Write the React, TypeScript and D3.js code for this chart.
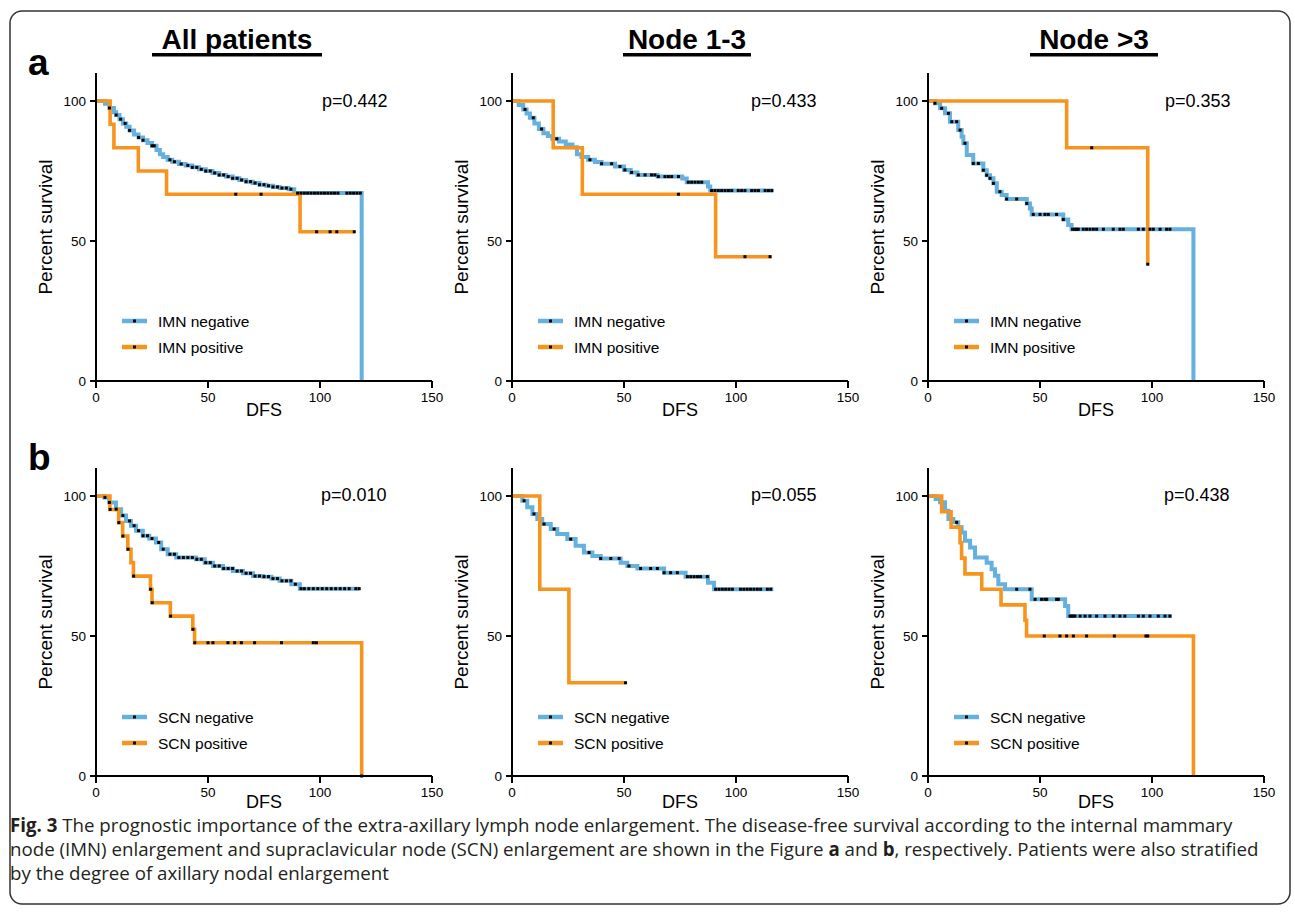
import React from 'react';
import * as d3 from 'd3';

// ---------- DATA ----------
const xTicks = [0, 50, 100, 150];
const yTicks = [0, 50, 100];
const columnTitles = ['All patients', 'Node 1-3', 'Node >3'];
const rowLetters = ['a', 'b'];
const pValues = ['p=0.442', 'p=0.433', 'p=0.353', 'p=0.010', 'p=0.055', 'p=0.438'];
const negLabels = ['IMN negative', 'SCN negative'];
const posLabels = ['IMN positive', 'SCN positive'];

// steps: [time, survival after the step]
const p1NegSteps = [[4,99],[6,97.5],[8,96],[9,95],[10.5,93.5],[12,92],[13.5,90.8],[15,89.5],[17,88],[19,87],[21,86],[23,85],[25,84],[27,82.5],[28.5,81],[30,80],[32,79],[34,78.3],[37,77.5],[40,77],[43,76.3],[46,75.6],[49,75],[52,74.3],[55,73.6],[58,73],[61,72.4],[64,71.8],[67,71.2],[70,70.7],[73,70.1],[76,69.7],[79,69.3],[82,68.9],[86,68.5],[88.5,67.1],[118.6,0]];
const p1NegEnd = 118.6;
const p1NegCens = [6,9,11,13,15,19,21,25,26,33,35,38,41,43,45,47,49,51,53,55,57,59,61,63,65,67,69,71,73,75,77,79,81,83,85,87,90,91.5,93,94.5,96,97.5,99,100.5,102,103.5,105,106.5,108,112,113.5,115,116.5,118];
const p1PosSteps = [[6.3,91.7],[8,83.3],[18.9,75],[31.5,66.7],[91.1,53.3]];
const p1PosEnd = 115.6;
const p1PosCens = [62.4,73.7,98.5,104.5,107.5,115.3];

const p2NegSteps = [[3,98.6],[5,97],[6.5,95.5],[8,94],[10,92],[12,90],[14,88.5],[16,87.5],[18,86.5],[21,85.5],[24,84.5],[27,83.5],[29,81],[31,80],[34,79],[37,78.2],[40,77.6],[46,76.6],[50,75.4],[53,74.5],[56,73.6],[65,73],[76,72.3],[78,71],[87.5,69.5],[88.5,68]];
const p2NegEnd = 116.7;
const p2NegCens = [5.8,9.5,13.2,20,34.8,40,44.5,48.2,50.4,53.4,56.4,59.4,62.3,63.8,65.3,68.3,69.8,71.3,74.3,78.7,80.2,81.7,83.2,84.7,89.1,90.6,92.1,93.6,95.1,96.6,98.1,101,102.5,104,107,108.5,110,113,114.5,116];
const p2PosSteps = [[18.4,83.3],[31.4,66.7],[90.9,44.4]];
const p2PosEnd = 115.9;
const p2PosCens = [74.3,104,115.2];

const p3NegSteps = [[3.1,99.2],[5.4,97.4],[7.6,95.6],[9.8,92.6],[13.5,89.6],[15,87.2],[15.8,84.9],[17.3,80.7],[20.2,77.7],[24.7,75.3],[26.2,73.5],[27.7,72.4],[29.2,70.6],[30.7,67.6],[32.9,66.4],[35.1,65],[44.1,63.4],[45.5,61.6],[46.3,59.5],[60.4,57.7],[62.6,55.7],[64.1,54.2],[118.5,0]];
const p3NegEnd = 118.5;
const p3NegCens = [3.1,6.1,9.1,10.6,12.8,14.3,16.5,20.2,22.5,24.7,26.2,27.7,29.2,32.1,35.1,39.6,44.1,47,50,52.2,53.7,57.4,60.4,64.5,65.6,66.4,67.1,69.3,70.8,72.3,73.8,75.3,78.3,82.7,85.7,87.2,93.9,96.1,99.1,100.6,103.6,106.5,108];
const p3PosSteps = [[61.9,83.3],[98.1,41.7]];
const p3PosEnd = 98.1;
const p3PosCens = [73.1,98.1];

const p4NegSteps = [[3.7,99.5],[5.9,97.7],[8.9,95.3],[11.2,93],[13.4,91.1],[15.6,89.4],[17.9,87.6],[20.9,85.8],[23.8,84.8],[26.8,83.4],[29.1,81],[32,79.2],[35.8,78],[44.7,77.4],[48.5,76.2],[52.2,75],[56.7,74.1],[61.1,73.2],[65.6,72.4],[70.1,71.4],[74.6,71.2],[78.3,70.5],[82,69.7],[87.2,68.5],[91,66.9]];
const p4NegEnd = 117.5;
const p4NegCens = [4,6,9,12,15,17,19,21,23,25,28,30,33,35,37,39,41,43,45,47,49,51,53,55,57,59,61,63,65,67,69,71,73,75,77,79,81,83,85,87,89,91.5,93,95,97,99,101,103,105,107,109,111,113,116,117.5];
const p4PosSteps = [[6.2,95.2],[10.1,90.5],[11.9,85.7],[14.2,81],[15.6,76.2],[16.7,71.4],[24.3,66.7],[25,61.9],[33.2,57.1],[43.2,52.4],[44,47.6],[118.6,0]];
const p4PosEnd = 118.6;
const p4PosCens = [6.3,10.2,12,14.3,16.8,24.4,25.1,33.3,43.3,44.1,50,52.2,58.9,61.9,64.9,70.8,82.8,97,98.4,118.6];

const p5NegSteps = [[4.6,98.3],[6.8,96],[9.1,93.6],[11.3,91.8],[13.5,90],[17.3,88.2],[20.2,86.4],[24.7,84.6],[28.4,82.2],[32.1,79.8],[35.9,78.6],[39.6,77.7],[48.5,76.2],[51.5,75],[56,74.1],[67.9,72.6],[77.5,71.2],[87.5,69],[90.2,66.7]];
const p5NegEnd = 116.7;
const p5NegCens = [5.4,9.8,14.3,18.8,26.2,34.4,39.6,44.1,47.8,52.2,57.4,61.9,64.9,67.9,70.8,73.8,78.3,79.8,81.3,82.8,84.2,87.2,90.9,92.4,93.9,95.4,96.9,98.4,102,103.5,105,106.5,108,109.5,111,114,115.5];
const p5PosSteps = [[12.4,66.7],[25.4,33.3]];
const p5PosEnd = 50.7;
const p5PosCens = [50.7];

const p6NegSteps = [[3.4,98.9],[5.4,97.8],[7.6,94.7],[9.1,91.8],[11.3,90.6],[13.5,88.8],[15,87],[16.5,84],[18.8,81.6],[21,78],[26.2,76.2],[28.4,73.8],[29.9,71.5],[31.4,68.5],[34.4,66.7],[46.3,63.1],[61.2,60.7],[62.6,57.1]];
const p6NegEnd = 108.8;
const p6NegCens = [12.8,39.6,45.5,47.8,50.7,52.2,53,57.4,58.2,63.4,64.1,64.9,65.6,67.9,70.1,72.3,75.3,79,82.7,85.7,87.9,93.9,96.1,99.1,102.8,105.8,108];
const p6PosSteps = [[6.1,94.4],[10.3,88.9],[14.3,83.3],[15,77.8],[16.5,72.2],[24,66.7],[32.6,61.1],[43.3,55.6],[44,50],[118.5,0]];
const p6PosEnd = 118.5;
const p6PosCens = [51.9,58.9,61.9,64.9,70.8,83.2,97.3,98.1];

// ---------- LAYOUT ----------
const W = 1295, H = 913;
const BLUE = '#64B0DE';
const ORANGE = '#F7941E';
const FONT = 'Liberation Sans, Arial, Helvetica, sans-serif';
const colX = [96, 512, 928];
const rowY = [[381, 73], [776, 468]];
const dfsOffset = [35, 32];
const plotW = 336;
const pOffsetX = [226, 239, 237, 225, 239, 236];
const pBaseline = [107, 501];
const legendY = [[321, 347], [717, 743]];

const panels = [
  { row: 0, col: 0, neg: p1NegSteps, negEnd: p1NegEnd, negC: p1NegCens, pos: p1PosSteps, posEnd: p1PosEnd, posC: p1PosCens },
  { row: 0, col: 1, neg: p2NegSteps, negEnd: p2NegEnd, negC: p2NegCens, pos: p2PosSteps, posEnd: p2PosEnd, posC: p2PosCens },
  { row: 0, col: 2, neg: p3NegSteps, negEnd: p3NegEnd, negC: p3NegCens, pos: p3PosSteps, posEnd: p3PosEnd, posC: p3PosCens },
  { row: 1, col: 0, neg: p4NegSteps, negEnd: p4NegEnd, negC: p4NegCens, pos: p4PosSteps, posEnd: p4PosEnd, posC: p4PosCens },
  { row: 1, col: 1, neg: p5NegSteps, negEnd: p5NegEnd, negC: p5NegCens, pos: p5PosSteps, posEnd: p5PosEnd, posC: p5PosCens },
  { row: 1, col: 2, neg: p6NegSteps, negEnd: p6NegEnd, negC: p6NegCens, pos: p6PosSteps, posEnd: p6PosEnd, posC: p6PosCens },
];

function stepPoints(steps: number[][], end: number): [number, number][] {
  const pts: [number, number][] = [[0, 100]];
  steps.forEach(s => pts.push([s[0], s[1]]));
  const last = pts[pts.length - 1];
  pts.push([end, last[1]]);
  return pts;
}
function survAt(steps: number[][], t: number): number {
  let s = 100;
  for (const st of steps) if (st[0] <= t + 1e-9) s = st[1];
  return s;
}

function Panel({ p, idx }: { p: any; idx: number }) {
  const x0 = colX[p.col];
  const x = d3.scaleLinear().domain([0, 150]).range([x0, x0 + plotW]);
  const y = d3.scaleLinear().domain([0, 110]).range(rowY[p.row]);
  const line = d3.line<[number, number]>().x(d => x(d[0])).y(d => y(d[1])).curve(d3.curveStepAfter);
  const negPath = line(stepPoints(p.neg, p.negEnd)) || '';
  const posPath = line(stepPoints(p.pos, p.posEnd)) || '';
  const yBase = y(0);
  const yTop = y(110);
  const ly = legendY[p.row];
  const cens = (arr: number[], steps: number[][]) =>
    arr.map((t, i) => (
      <rect key={i} x={x(t) - 1.5} y={y(survAt(steps, t)) - 1.5} width={3} height={3} fill="#000" />
    ));
  return (
    <g fontFamily={FONT}>
      <path d={negPath} fill="none" stroke={BLUE} strokeWidth={4} />
      <path d={posPath} fill="none" stroke={ORANGE} strokeWidth={3.6} />
      {cens(p.negC, p.neg)}
      {cens(p.posC, p.pos)}
      <line x1={x0} x2={x0} y1={yTop} y2={yBase} stroke="#000" strokeWidth={2} />
      <line x1={x0} x2={x(150)} y1={yBase} y2={yBase} stroke="#000" strokeWidth={2} />
      {yTicks.map(t => (
        <g key={'y' + t}>
          <line x1={x0 - 6} x2={x0} y1={y(t)} y2={y(t)} stroke="#000" strokeWidth={2} />
          <text x={x0 - 10} y={y(t) + 5} textAnchor="end" fontSize={13.5}>{t}</text>
        </g>
      ))}
      {xTicks.map(t => (
        <g key={'x' + t}>
          <line x1={x(t)} x2={x(t)} y1={yBase} y2={yBase + 7} stroke="#000" strokeWidth={2} />
          <text x={x(t)} y={yBase + 21} textAnchor="middle" fontSize={13.5}>{t}</text>
        </g>
      ))}
      <text x={x(75)} y={yBase + dfsOffset[p.row]} textAnchor="middle" fontSize={18}>DFS</text>
      <text transform={`translate(${x0 - 44},${(yTop + yBase) / 2}) rotate(-90)`} textAnchor="middle" fontSize={19}>Percent survival</text>
      <text x={x0 + pOffsetX[idx]} y={pBaseline[p.row]} fontSize={18}>{pValues[idx]}</text>
      <line x1={x0 + 26} x2={x0 + 51} y1={ly[0]} y2={ly[0]} stroke={BLUE} strokeWidth={4.5} />
      <rect x={x0 + 37} y={ly[0] - 1.5} width={3} height={3} fill="#000" />
      <text x={x0 + 62} y={ly[0] + 5.5} fontSize={15.5}>{negLabels[p.row]}</text>
      <line x1={x0 + 26} x2={x0 + 51} y1={ly[1]} y2={ly[1]} stroke={ORANGE} strokeWidth={4.5} />
      <rect x={x0 + 37} y={ly[1] - 1.5} width={3} height={3} fill="#000" />
      <text x={x0 + 62} y={ly[1] + 5.5} fontSize={15.5}>{posLabels[p.row]}</text>
    </g>
  );
}

export default function App() {
  const titleCenters = [237, 687, 1094];
  const titleHalf = [85, 64, 64];
  return (
    <svg width={W} height={H} style={{ position: 'absolute', left: 0, top: 0 }} xmlns="http://www.w3.org/2000/svg">
      <rect x={0} y={0} width={W} height={H} fill="#fff" />
      <rect x={10} y={11} width={1280} height={893} rx={12} ry={12} fill="none" stroke="#333" strokeWidth={1.5} />
      {columnTitles.map((t, i) => (
        <g key={t}>
          <text x={titleCenters[i]} y={49} textAnchor="middle" fontFamily={FONT} fontWeight="bold" fontSize={28}>{t}</text>
          <rect x={titleCenters[i] - titleHalf[i]} y={53} width={titleHalf[i] * 2} height={3.5} fill="#000" />
        </g>
      ))}
      <text x={28} y={75} fontFamily={FONT} fontWeight="bold" fontSize={37}>{rowLetters[0]}</text>
      <text x={28} y={470} fontFamily={FONT} fontWeight="bold" fontSize={37}>{rowLetters[1]}</text>
      {panels.map((p, i) => <Panel key={i} p={p} idx={i} />)}
      <g fontFamily="'Open Sans', 'Noto Sans', sans-serif" fontSize={18.7} fill="#231F20">
        <text x={10} y={832}>
          <tspan fontWeight="bold">Fig. 3</tspan> The prognostic importance of the extra-axillary lymph node enlargement. The disease-free survival according to the internal mammary
        </text>
        <text x={10} y={856}>
          node (IMN) enlargement and supraclavicular node (SCN) enlargement are shown in the Figure <tspan fontWeight="bold">a</tspan> and <tspan fontWeight="bold">b</tspan>, respectively. Patients were also stratified
        </text>
        <text x={10} y={880}>by the degree of axillary nodal enlargement</text>
      </g>
    </svg>
  );
}
